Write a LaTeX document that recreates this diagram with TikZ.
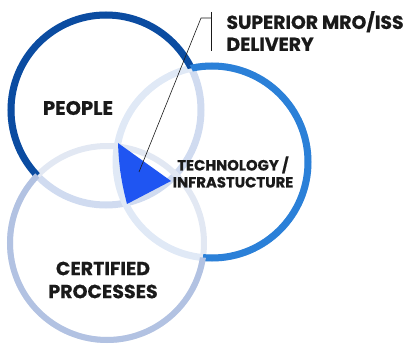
\documentclass[tikz,border=0pt]{standalone}
\usepackage{fontspec}
\setmainfont{Poppins}[BoldFeatures={FakeBold=0.6}]
\usetikzlibrary{positioning}

\definecolor{peopleblue}{HTML}{0B4CA1}
\definecolor{peoplepale}{HTML}{D0DBF0}
\definecolor{techblue}{HTML}{2B80D8}
\definecolor{techpale}{HTML}{E0E9F6}
\definecolor{certblue}{HTML}{B2C2E2}
\definecolor{certpale}{HTML}{E2E8F3}
\definecolor{hubblue}{HTML}{1F55F2}
\definecolor{inkgray}{HTML}{1A1A1A}

\begin{document}
\begin{tikzpicture}[
    x=1pt, y=-1pt,
    ring/.style={line width=7pt},
    lbl/.style={font=\bfseries\fontsize{19.5}{23}\selectfont, align=center, text=inkgray},
    small/.style={lbl, font=\bfseries\fontsize{14.8}{17}\selectfont},
    leader/.style={draw=inkgray, line width=0.6pt}
]
    \useasboundingbox (0,0) rectangle (412,347);

    % Circle centres
    \coordinate (people) at (106,110);
    \coordinate (tech) at (212,162);
    \coordinate (cert) at (107,243);

    % Pale rings (the parts inside another circle)
    \draw[ring, peoplepale] (people) circle[radius=95pt];
    \draw[ring, techpale] (tech) circle[radius=96pt];
    \draw[ring, certpale, line width=6pt] (cert) circle[radius=97pt];

    % People ring, outside the other two
    \begin{scope}[even odd rule]
        \clip (-20,-20) rectangle (430,370) (tech) circle[radius=96pt];
        \begin{scope}[even odd rule]
            \clip (-20,-20) rectangle (430,370) (cert) circle[radius=97pt];
            \draw[ring, peopleblue] (people) circle[radius=95pt];
        \end{scope}
    \end{scope}

    % Technology ring
    \begin{scope}[even odd rule]
        \clip (-20,-20) rectangle (430,370) (people) circle[radius=95pt];
        \begin{scope}[even odd rule]
            \clip (-20,-20) rectangle (430,370) (cert) circle[radius=97pt];
            \draw[ring, techblue] (tech) circle[radius=96pt];
        \end{scope}
    \end{scope}

    % Certified ring
    \begin{scope}[even odd rule]
        \clip (-20,-20) rectangle (430,370) (people) circle[radius=95pt];
        \begin{scope}[even odd rule]
            \clip (-20,-20) rectangle (430,370) (tech) circle[radius=96pt];
            \draw[ring, certblue, line width=6pt] (cert) circle[radius=97pt];
        \end{scope}
    \end{scope}

    % Hub triangle
    \fill[hubblue] (118,143) -- (171,181) -- (127,204) to[bend left=6] cycle;
    \coordinate (hubtip) at (139,172);

    % Labels
    \node[lbl] (peoplelbl) at (78,108) {PEOPLE};
    \node[small] (techlbl) at (233,172) {TECHNOLOGY /\\INFRASTUCTURE};
    \node[lbl, font=\bfseries\fontsize{19}{23}\selectfont] (certlbl) at (103,280) {CERTIFIED\\PROCESSES};
    \node[lbl, font=\bfseries\fontsize{18.8}{22}\selectfont, align=left, anchor=west] (goal) at (223,31) {SUPERIOR MRO/ISS\\DELIVERY};

    % Leader to the goal
    \coordinate (bartop) at (211,12);
    \coordinate (barbot) at (211,51);
    \coordinate (elbow) at (201,18);
    \draw[leader] (bartop) -- (barbot);
    \draw[leader] (hubtip) -- (elbow) -- (elbow -| bartop);
\end{tikzpicture}
\end{document}
